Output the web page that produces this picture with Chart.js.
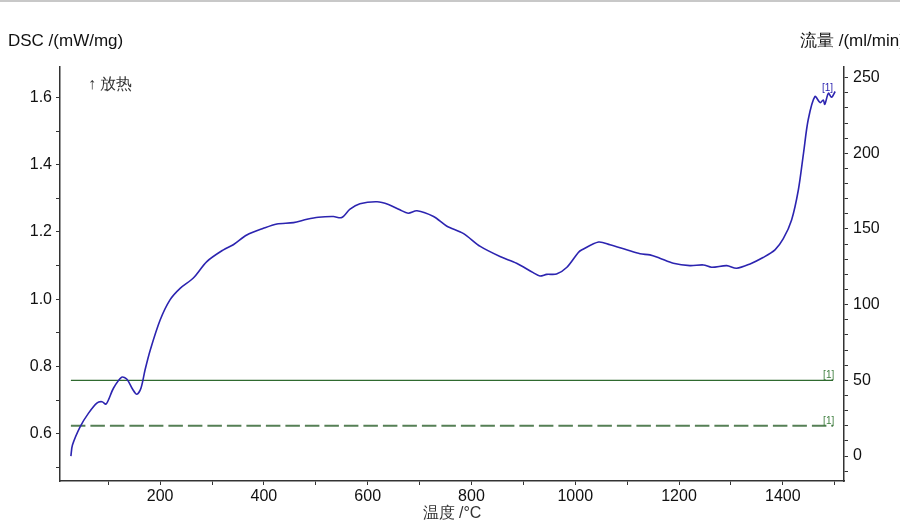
<!DOCTYPE html>
<html>
<head>
<meta charset="utf-8">
<script src="https://cdn.jsdelivr.net/npm/chart.js@4/dist/chart.umd.min.js"></script>
<style>
  html, body { margin: 0; padding: 0; background: #fff; overflow: hidden; }
  #wrap { width: 900px; height: 521px; position: relative; }
</style>
</head>
<body>
<div id="wrap"><canvas id="dscChart" width="900" height="521"></canvas></div>
<script>
// temperature /°C and DSC /(mW/mg)
const temps = [28, 31, 46, 62, 78, 88, 96, 110, 126, 136, 147, 155, 163, 171, 181, 200, 219, 239, 264, 290,
  322, 341, 367, 399, 425, 457, 483, 505, 534, 550, 566, 585, 618, 640, 662, 678, 695, 727, 752, 784,
  817, 855, 887, 919, 932, 945, 964, 984, 1006, 1013, 1045, 1067, 1099, 1125, 1144, 1163, 1189, 1221,
  1247, 1263, 1292, 1311, 1337, 1362, 1385, 1401, 1417, 1430, 1440, 1449, 1462, 1472, 1478, 1481, 1488, 1494, 1501];
const dsc = [0.533, 0.566, 0.621, 0.661, 0.691, 0.695, 0.688, 0.735, 0.768, 0.762, 0.732, 0.717, 0.735, 0.790, 0.849, 0.938, 0.998, 1.033, 1.063, 1.112,
  1.147, 1.162, 1.191, 1.211, 1.224, 1.228, 1.238, 1.244, 1.246, 1.243, 1.268, 1.284, 1.290, 1.282, 1.266, 1.256, 1.263, 1.246, 1.218, 1.196,
  1.157, 1.127, 1.107, 1.079, 1.069, 1.074, 1.075, 1.095, 1.139, 1.147, 1.170, 1.162, 1.147, 1.135, 1.132, 1.122, 1.107, 1.100,
  1.102, 1.095, 1.100, 1.092, 1.105, 1.124, 1.147, 1.180, 1.236, 1.325, 1.435, 1.534, 1.603, 1.585, 1.593, 1.580, 1.613, 1.601, 1.618];

// purge gas flows /(ml/min)
const flowRange = [28, 1497];
const flowSolid = [50, 50];
const flowDashed = [20, 20];

const leftMajor = [0.6, 0.8, 1.0, 1.2, 1.4, 1.6];
const rightMajor = [0, 50, 100, 150, 200, 250];
const xMajor = [200, 400, 600, 800, 1000, 1200, 1400];

const AXIS = '#333';
const FONT = "'Liberation Sans', Arial, sans-serif";

function near(v, list) {
  return list.find(m => Math.abs(m - v) < 1e-6);
}

const textPlugin = {
  id: 'texts',
  afterDraw(chart) {
    const ctx = chart.ctx;
    const x = chart.scales.x, y2 = chart.scales.y2;
    ctx.save();
    // thin frame line at the top of the picture
    ctx.strokeStyle = '#c8c8c8';
    ctx.lineWidth = 2;
    ctx.beginPath(); ctx.moveTo(0, 1); ctx.lineTo(900, 1); ctx.stroke();

    ctx.fillStyle = '#111';
    ctx.font = '17px ' + FONT;
    ctx.textBaseline = 'alphabetic';
    ctx.textAlign = 'left';
    ctx.fillText('DSC /(mW/mg)', 8, 46);
    ctx.fillText('流量 /(ml/min)', 800, 46);
    ctx.fillStyle = '#333';
    ctx.font = '16px ' + FONT;
    ctx.fillText('↑ 放热', 88, 89);
    ctx.textAlign = 'center';
    ctx.fillText('温度 /°C', 452, 518);

    ctx.font = '10px ' + FONT;
    ctx.textAlign = 'left';
    ctx.fillStyle = '#2c24b0';
    ctx.fillText('[1]', 822, 91);
    ctx.fillStyle = '#3f7f3f';
    ctx.fillText('[1]', x.getPixelForValue(flowRange[1]) - 10, y2.getPixelForValue(flowSolid[1]) - 2);
    ctx.fillText('[1]', x.getPixelForValue(flowRange[1]) - 10, y2.getPixelForValue(flowDashed[1]) - 2);
    ctx.restore();
  }
};

const gridOpts = { display: true, drawOnChartArea: false, drawTicks: true, tickLength: 4, color: AXIS, lineWidth: 1 };
const borderOpts = { display: true, color: AXIS, width: 1.5 };
const tickFont = { family: FONT, size: 16 };

new Chart(document.getElementById('dscChart'), {
  type: 'line',
  data: {
    datasets: [{
      label: 'DSC',
      data: temps.map((t, i) => ({ x: t, y: dsc[i] })),
      yAxisID: 'y',
      borderColor: '#2c24b0',
      borderWidth: 1.6,
      pointRadius: 0,
      tension: 0.3,
      fill: false
    }, {
      label: 'flow 50',
      data: flowRange.map((t, i) => ({ x: t, y: flowSolid[i] })),
      yAxisID: 'y2',
      borderColor: '#2f6a2f',
      borderWidth: 1.3,
      pointRadius: 0
    }, {
      label: 'flow 20',
      data: flowRange.map((t, i) => ({ x: t, y: flowDashed[i] })),
      yAxisID: 'y2',
      borderColor: '#557f55',
      borderWidth: 1.8,
      borderDash: [14.5, 5],
      pointRadius: 0
    }]
  },
  options: {
    responsive: false,
    animation: false,
    devicePixelRatio: 1,
    layout: { padding: { top: 67, left: 0, right: 0, bottom: 0 } },
    plugins: { legend: { display: false }, tooltip: { enabled: false } },
    scales: {
      x: {
        type: 'linear',
        min: 7,
        max: 1518,
        grid: gridOpts,
        border: borderOpts,
        afterFit: s => { s.height = 40; },
        ticks: {
          stepSize: 100,
          includeBounds: false,
          autoSkip: false,
          maxRotation: 0,
          padding: 2,
          color: '#111',
          font: tickFont,
          callback: v => near(v, xMajor) !== undefined ? String(near(v, xMajor)) : ''
        }
      },
      y: {
        position: 'left',
        min: 0.459,
        max: 1.691,
        grid: gridOpts,
        border: borderOpts,
        afterFit: s => { s.width = 60; },
        ticks: {
          stepSize: 0.1,
          includeBounds: false,
          autoSkip: false,
          padding: 4,
          color: '#111',
          font: tickFont,
          callback: v => near(v, leftMajor) !== undefined ? near(v, leftMajor).toFixed(1) : ''
        }
      },
      y2: {
        position: 'right',
        min: -16.5,
        max: 257,
        grid: gridOpts,
        border: borderOpts,
        afterFit: s => { s.width = 56; },
        ticks: {
          stepSize: 10,
          includeBounds: false,
          autoSkip: false,
          padding: 5,
          color: '#111',
          font: tickFont,
          callback: v => near(v, rightMajor) !== undefined ? String(near(v, rightMajor)) : ''
        }
      }
    }
  },
  plugins: [textPlugin]
});
</script>
</body>
</html>
